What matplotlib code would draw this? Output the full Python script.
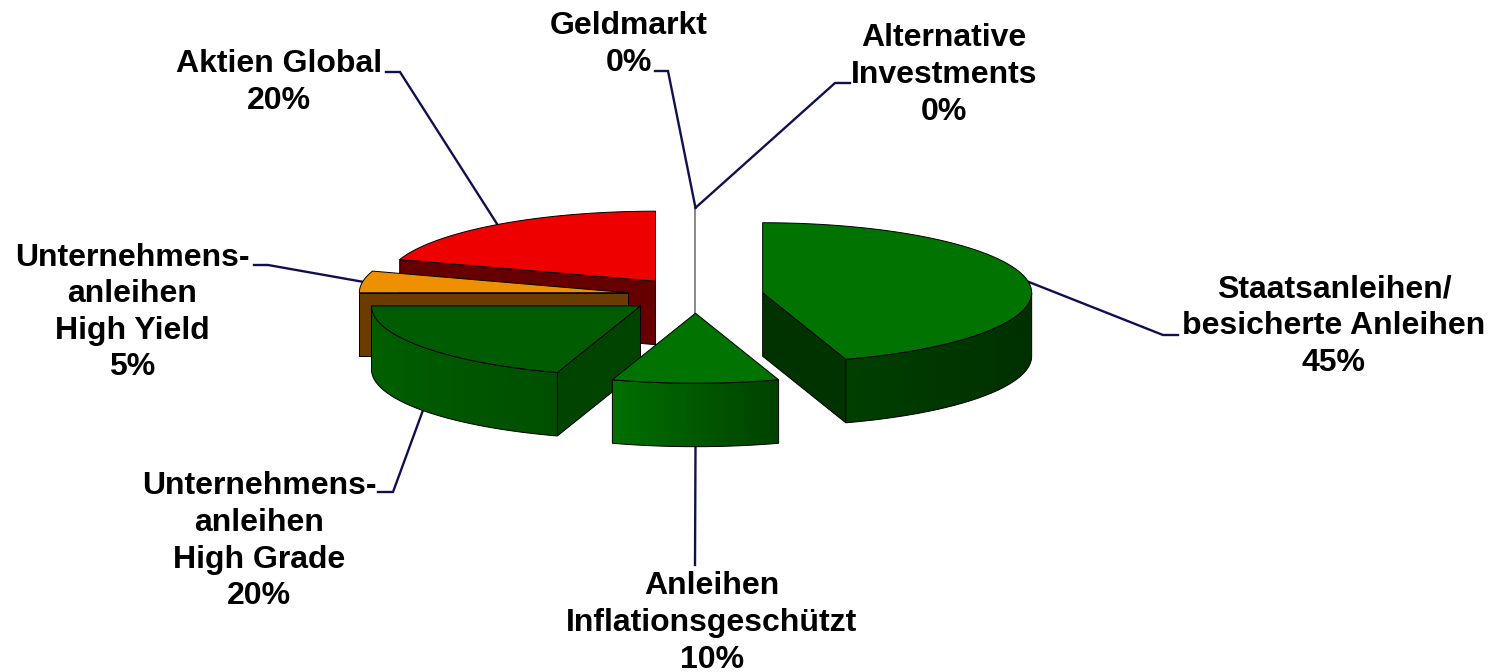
import numpy as np
import matplotlib
matplotlib.use("Agg")
import matplotlib.pyplot as plt
from matplotlib.colors import LinearSegmentedColormap
from matplotlib.patches import Polygon

plt.rcParams['font.family'] = ['Liberation Sans', 'DejaVu Sans']

# data, clockwise from 12 o'clock
categories = ["Geldmarkt", "Alternative\nInvestments", "Staatsanleihen/\nbesicherte Anleihen",
              "Anleihen\nInflationsgeschützt", "Unternehmens-\nanleihen\nHigh Grade",
              "Unternehmens-\nanleihen\nHigh Yield", "Aktien Global"]
values = [0, 0, 45, 10, 20, 5, 20]

top_colors  = ["#ffffff", "#ffffff", "#007300", "#007300", "#005c00", "#ee9000", "#ee0000"]
face_colors = ["#ffffff", "#ffffff", "#003300", "#004000", "#004400", "#6b3c00", "#660000"]
side_left   = ["#ffffff", "#ffffff", "#004000", "#007000", "#005f00", "#6b3c00", "#660000"]
side_right  = ["#ffffff", "#ffffff", "#003000", "#004200", "#004f00", "#6b3c00", "#660000"]

# where the labels go (pixels): centre x, first line y
label_x = [629, 944, 1334, 712, 259, 132, 279]
label_y = [23, 35, 286, 583, 483, 254, 61]
# leader line, knee and end (pixels)
knee = [(668, 71), (835, 83), (1163, 335), (695, 565), (393, 492), (268, 265), (400, 72)]
tail = [(655, 71), (850, 83), (1178, 335), (695, 565), (378, 492), (254, 265), (386, 72)]

# pie geometry in pixels
W, H = 1496, 672
cx, cy = 695.5, 295.5
rx, ry = 269, 70
explode = 68
depth = 63.5
line_gap = 36.6
navy = "#10104f"


def rim(t, ox, oy):
    t = np.radians(t)
    return ox + rx*np.sin(t), oy - ry*np.cos(t)


def offset(mid):
    t = np.radians(mid)
    return cx + explode*np.sin(t), cy - explode*np.cos(t)*ry/rx


fig = plt.figure(figsize=(W/100, H/100), dpi=100)
ax = fig.add_axes([0, 0, 1, 1])
ax.axis("off")

edges = np.cumsum([0] + values)*3.6
start = edges[:-1]
end = edges[1:]
mids = (start + end)/2

anchors = []
apex = []
for a, b, m in zip(start, end, mids):
    ox, oy = offset(m)
    apex.append((ox, oy))
    x, y = rim(m, ox, oy)
    if 90 < m < 270:   # leader starts at the bottom of the side wall
        y += depth
    anchors.append((x, y))

# back to front
order = [6, 5, 4, 3, 2]
for i in order:
    a, b = start[i], end[i]
    ox, oy = apex[i]
    z = order.index(i)*3

    # radial faces
    for t, visible in ((a, np.sin(np.radians(a)) < -1e-9), (b, np.sin(np.radians(b)) > 1e-9)):
        if visible:
            x, y = rim(t, ox, oy)
            ax.add_patch(Polygon([(ox, oy), (x, y), (x, y+depth), (ox, oy+depth)],
                                 fc=face_colors[i], ec="black", lw=0.7, zorder=z+1))

    # curved outer wall with a horizontal gradient
    lo, hi = max(a, 90), min(b, 270)
    if hi > lo:
        ts = np.linspace(lo, hi, 80)
        x, y = rim(ts, ox, oy)
        pts = np.r_[np.c_[x, y], np.c_[x[::-1], y[::-1] + depth]]
        poly = Polygon(pts, fc="none", ec="black", lw=0.7, zorder=z+2)
        ax.add_patch(poly)
        cmap = LinearSegmentedColormap.from_list("s", [side_left[i], side_right[i]])
        im = ax.imshow(np.linspace(0, 1, 256)[None, :], cmap=cmap, aspect="auto",
                       extent=(x.min(), x.max(), (y+depth).max(), y.min()),
                       zorder=z+1.5)
        im.set_clip_path(poly)

    # top
    ts = np.linspace(a, b, 120)
    x, y = rim(ts, ox, oy)
    ax.add_patch(Polygon(np.r_[[(ox, oy)], np.c_[x, y]], fc=top_colors[i], ec="black",
                         lw=0.7, zorder=z+3))

# zero slices only show up as a thin line
x0, y0 = anchors[0]
ax.plot([x0, apex[3][0]], [y0, apex[3][1]], color="#888888", lw=1.4, zorder=0.5)

# leader lines and labels
for i, name in enumerate(categories):
    ax.plot([anchors[i][0], knee[i][0], tail[i][0]], [anchors[i][1], knee[i][1], tail[i][1]],
            color=navy, lw=1.7, zorder=0.6, solid_joinstyle="miter")
    lines = name.split("\n") + [f"{values[i]}%"]
    for j, line in enumerate(lines):
        ax.text(label_x[i], label_y[i] + j*line_gap, line, ha="center", va="center_baseline",
                fontsize=23, fontweight="bold", color="black", zorder=30)

ax.set_xlim(0, W)
ax.set_ylim(H, 0)

fig.savefig("out.png", dpi=100, facecolor="white")
